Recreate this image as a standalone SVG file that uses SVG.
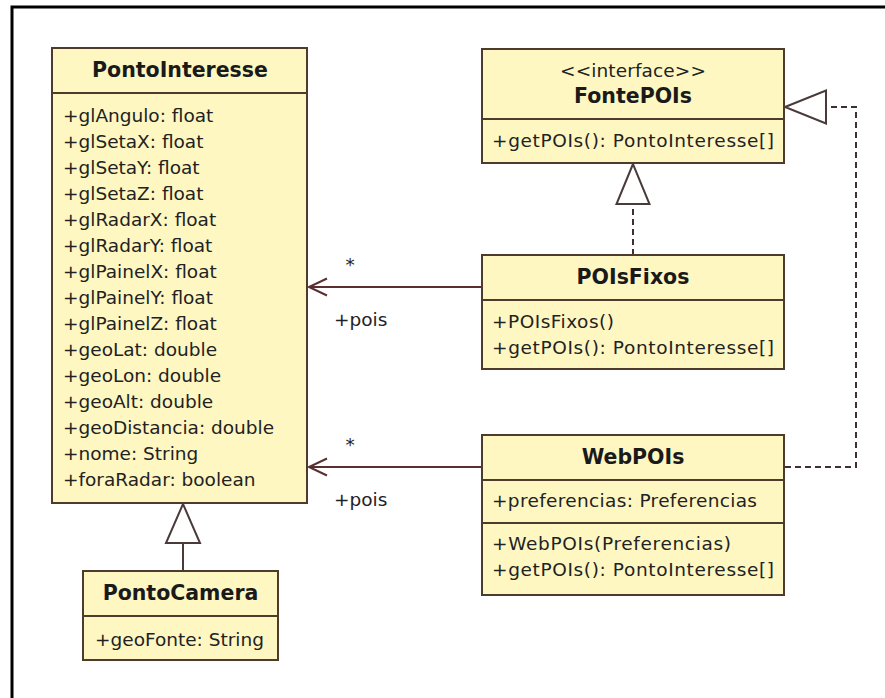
<svg xmlns="http://www.w3.org/2000/svg" width="885" height="698" viewBox="0 0 885 698">
  <style>
    .box { fill: #fef7c2; stroke: #4f3b2b; stroke-width: 2; }
    .sep { stroke: #4f3b2b; stroke-width: 2; }
    .t { font-family: "DejaVu Sans", Verdana, sans-serif; font-size: 18.5px; fill: #222; }
    .title { font-family: "DejaVu Sans", Verdana, sans-serif; font-size: 20.5px; font-weight: bold; fill: #1a1a1a; text-anchor: middle; }
    .stereo { font-family: "DejaVu Sans", Verdana, sans-serif; font-size: 18.5px; fill: #222; text-anchor: middle; }
    .assoc { fill: none; stroke: #5b2f2f; stroke-width: 2; }
    .real { fill: none; stroke: #3d3030; stroke-width: 2; stroke-dasharray: 6 4; }
    .gen { fill: none; stroke: #4a3a3a; stroke-width: 2; }
    .tri { fill: #ffffff; stroke: #4a3a3a; stroke-width: 2; stroke-linejoin: miter; }
    .lbl { font-family: "DejaVu Sans", Verdana, sans-serif; font-size: 18.5px; fill: #222; }
  </style>

  <rect width="885" height="698" fill="#ffffff"/>
  <!-- frame -->
  <path d="M885 7 H12 V698" fill="none" stroke="#000" stroke-width="3"/>

  <!-- connectors -->
  <g id="connectors">
    <!-- POIsFixos -> PontoInteresse -->
    <path class="assoc" d="M482 287 H309"/>
    <path class="assoc" d="M327 278.5 L309 287 L327 295.5"/>
    <!-- WebPOIs -> PontoInteresse -->
    <path class="assoc" d="M482 467 H309"/>
    <path class="assoc" d="M327 458.5 L309 467 L327 475.5"/>
    <!-- PontoCamera generalizes PontoInteresse -->
    <path class="gen" d="M183 571 V543"/>
    <polygon class="tri" points="183,504 166,543 200,543"/>
    <!-- POIsFixos realizes FontePOIs -->
    <path class="real" d="M633 255 V204"/>
    <polygon class="tri" points="633,164 616.5,204 649.5,204"/>
    <!-- WebPOIs realizes FontePOIs -->
    <path class="real" d="M785 467 H856 V107 H826"/>
    <polygon class="tri" points="785,107 826,90.5 826,123.5"/>
    <!-- association end labels -->
    <text class="lbl" x="350" y="271" text-anchor="middle">*</text>
    <text class="lbl" x="334" y="326">+pois</text>
    <text class="lbl" x="350" y="451" text-anchor="middle">*</text>
    <text class="lbl" x="334" y="506">+pois</text>
  </g>

  <g id="PontoInteresse">
    <rect class="box" x="52" y="48" width="255" height="455"/>
    <line class="sep" x1="52" y1="93" x2="307" y2="93"/>
    <text class="title" x="180" y="77">PontoInteresse</text>
    <text class="t" x="63" y="122">+glAngulo: float</text>
    <text class="t" x="63" y="148">+glSetaX: float</text>
    <text class="t" x="63" y="174">+glSetaY: float</text>
    <text class="t" x="63" y="200">+glSetaZ: float</text>
    <text class="t" x="63" y="226">+glRadarX: float</text>
    <text class="t" x="63" y="252">+glRadarY: float</text>
    <text class="t" x="63" y="278">+glPainelX: float</text>
    <text class="t" x="63" y="304">+glPainelY: float</text>
    <text class="t" x="63" y="330">+glPainelZ: float</text>
    <text class="t" x="63" y="356">+geoLat: double</text>
    <text class="t" x="63" y="382">+geoLon: double</text>
    <text class="t" x="63" y="408">+geoAlt: double</text>
    <text class="t" x="63" y="434">+geoDistancia: double</text>
    <text class="t" x="63" y="460">+nome: String</text>
    <text class="t" x="63" y="486">+foraRadar: boolean</text>
  </g>

  <g id="PontoCamera">
    <rect class="box" x="83" y="571" width="195" height="89"/>
    <line class="sep" x1="83" y1="616" x2="278" y2="616"/>
    <text class="title" x="180.5" y="600">PontoCamera</text>
    <text class="t" x="95" y="646">+geoFonte: String</text>
  </g>

  <g id="FontePOIs">
    <rect class="box" x="482" y="49" width="302" height="114"/>
    <line class="sep" x1="482" y1="119" x2="784" y2="119"/>
    <text class="stereo" x="633" y="77" textLength="146">&lt;&lt;interface&gt;&gt;</text>
    <text class="title" x="633" y="103">FontePOIs</text>
    <text class="t" x="492" y="147" textLength="282">+getPOIs(): PontoInteresse[]</text>
  </g>

  <g id="POIsFixos">
    <rect class="box" x="482" y="255" width="302" height="114"/>
    <line class="sep" x1="482" y1="300" x2="784" y2="300"/>
    <text class="title" x="633" y="284">POIsFixos</text>
    <text class="t" x="492" y="328" textLength="122">+POIsFixos()</text>
    <text class="t" x="492" y="354" textLength="282">+getPOIs(): PontoInteresse[]</text>
  </g>

  <g id="WebPOIs">
    <rect class="box" x="482" y="435" width="302" height="160"/>
    <line class="sep" x1="482" y1="480" x2="784" y2="480"/>
    <line class="sep" x1="482" y1="523" x2="784" y2="523"/>
    <text class="title" x="633" y="464">WebPOIs</text>
    <text class="t" x="492" y="507" textLength="265">+preferencias: Preferencias</text>
    <text class="t" x="492" y="550" textLength="239">+WebPOIs(Preferencias)</text>
    <text class="t" x="492" y="576" textLength="282">+getPOIs(): PontoInteresse[]</text>
  </g>
</svg>
